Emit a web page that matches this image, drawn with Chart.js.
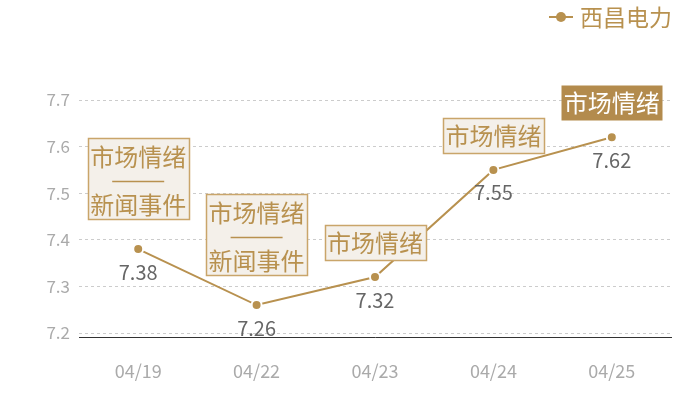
<!DOCTYPE html>
<html>
<head>
<meta charset="utf-8">
<script src="https://cdn.jsdelivr.net/npm/chart.js@4/dist/chart.umd.min.js"></script>
<style>
  html, body { margin: 0; padding: 0; background: #fff; }
  #wrap { width: 700px; height: 400px; }
</style>
</head>
<body>
<div id="wrap"><canvas id="chart"></canvas></div>
<script>
const dates = ['04/19', '04/22', '04/23', '04/24', '04/25'];
const prices = [7.38, 7.26, 7.32, 7.55, 7.62];
const tags = [
  ['市场情绪', '新闻事件'],
  ['市场情绪', '新闻事件'],
  ['市场情绪'],
  ['市场情绪'],
  ['市场情绪']
];
const yTicks = [7.2, 7.3, 7.4, 7.5, 7.6, 7.7];
const seriesName = '西昌电力';

const gold = '#b8914f';
const FONT = '"Noto Sans CJK SC", "Noto Sans", sans-serif';

// boxes over the points + value labels + legend
const tagPlugin = {
  id: 'tags',
  afterDatasetsDraw(chart) {
    const ctx = chart.ctx;
    const pts = chart.getDatasetMeta(0).data;
    ctx.save();
    pts.forEach((p, i) => {
      // value under the point
      ctx.fillStyle = '#666';
      ctx.font = '20px ' + FONT;
      ctx.textAlign = 'center';
      ctx.textBaseline = 'middle';
      ctx.fillText(prices[i].toFixed(2), p.x, p.y + 23);

      const t = tags[i];
      const w = 101;
      const h = t.length > 1 ? 81 : 35;
      const gap = t.length > 1 ? 30 : 17;
      const x0 = Math.round(p.x - w / 2) + 0.5;
      const y0 = Math.round(p.y - gap - h) + 0.5;
      const last = i === tags.length - 1;
      ctx.fillStyle = last ? '#b38b4d' : '#f4f0ea';
      ctx.fillRect(x0, y0, w, h);
      if (!last) {
        ctx.strokeStyle = '#c9a56a';
        ctx.lineWidth = 1.5;
        ctx.strokeRect(x0, y0, w, h);
      }
      ctx.fillStyle = last ? '#fff' : gold;
      ctx.font = '24px ' + FONT;
      if (t.length > 1) {
        ctx.fillText(t[0], p.x, y0 + 18);
        ctx.strokeStyle = gold;
        ctx.lineWidth = 1.5;
        ctx.beginPath();
        ctx.moveTo(p.x - 26, y0 + 43);
        ctx.lineTo(p.x + 26, y0 + 43);
        ctx.stroke();
        ctx.fillText(t[1], p.x, y0 + 66);
      } else {
        ctx.fillText(t[0], p.x, y0 + h / 2);
      }
    });

    // legend
    ctx.strokeStyle = gold;
    ctx.lineWidth = 2;
    ctx.beginPath();
    ctx.moveTo(549, 17);
    ctx.lineTo(573, 17);
    ctx.stroke();
    ctx.fillStyle = gold;
    ctx.beginPath();
    ctx.arc(561, 17, 5, 0, Math.PI * 2);
    ctx.fill();
    ctx.font = '23px ' + FONT;
    ctx.textAlign = 'left';
    ctx.fillText(seriesName, 580, 17);
    ctx.restore();
  }
};

new Chart(document.getElementById('chart'), {
  type: 'line',
  data: {
    labels: dates,
    datasets: [{
      label: seriesName,
      data: prices,
      borderColor: gold,
      borderWidth: 2,
      pointRadius: 5,
      pointBorderWidth: 2,
      pointBackgroundColor: gold,
      pointBorderColor: '#fff',
      tension: 0,
      clip: false
    }]
  },
  options: {
    responsive: true,
    maintainAspectRatio: false,
    animation: false,
    layout: { padding: { top: 100, right: 29, left: 0, bottom: 0 } },
    plugins: {
      legend: { display: false },
      tooltip: { enabled: false }
    },
    scales: {
      x: {
        offset: true,
        grid: { display: false, drawTicks: false },
        border: { display: true, color: '#333', width: 1 },
        ticks: { color: '#aaa', font: { size: 18, family: FONT }, padding: 23 },
        afterFit(s) { s.height = 63; }
      },
      y: {
        min: 7.2 - 4 / 466,
        max: 7.7,
        afterBuildTicks(s) { s.ticks = yTicks.map(v => ({ value: v })); },
        grid: { color: '#ccc', drawTicks: false },
        border: { display: false, dash: [3, 3] },
        ticks: {
          color: '#aaa',
          font: { size: 17, family: FONT },
          padding: 9,
          callback: v => v.toFixed(1)
        },
        afterFit(s) { s.width = 79; }
      }
    }
  },
  plugins: [tagPlugin]
});
</script>
</body>
</html>
